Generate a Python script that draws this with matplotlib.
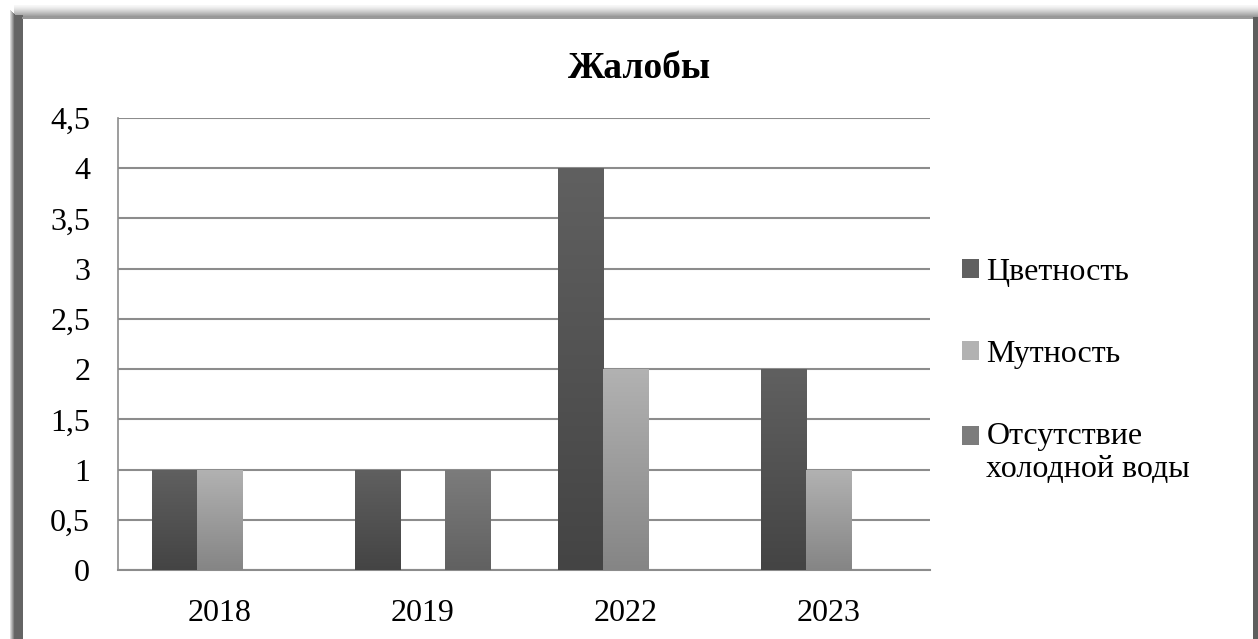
import numpy as np
import matplotlib
matplotlib.use('Agg')
import matplotlib.pyplot as plt
from matplotlib.patches import Rectangle
from matplotlib.ticker import FuncFormatter, MultipleLocator

# данные
years = ['2018', '2019', '2022', '2023']
series_names = ['Цветность', 'Мутность', 'Отсутствие\nхолодной воды']
tsvetnost = [1, 1, 4, 2]
mutnost = [1, 0, 2, 1]
otsutstvie = [0, 1, 0, 0]

# цвета градиента (верх, низ)
grad_colors = [('#606060', '#444444'), ('#b2b2b2', '#858585'), ('#7c7c7c', '#616161')]

plt.rcParams['font.family'] = ['Liberation Serif', 'DejaVu Serif']
fs = 23

W, H = 1258, 639
fig = plt.figure(figsize=(W / 100, H / 100), dpi=100)
fig.patch.set_facecolor('white')

# рамка с тенью
def px_rect(x0, y0, x1, y1, color):
    fig.add_artist(Rectangle((x0 / W, 1 - y1 / H), (x1 - x0) / W, (y1 - y0) / H,
                             transform=fig.transFigure, facecolor=color,
                             edgecolor='none', zorder=0))

# верхняя тень
for i in range(13):
    g = 0.97 - 0.42 * (i / 12) ** 1.3
    px_rect(14, 5 + i, W, 6 + i, (g, g, g))
# левая полоса
for i in range(5):
    g = 0.85 - 0.45 * (i / 4)
    px_rect(10 + i, 10 + i, 11 + i, H, (g, g, g))
px_rect(15, 15, 23, H, '#646464')
px_rect(1253, 17, W, H, '#5e5e5e')
px_rect(22, 17, 1253, 18.5, '#9a9a9a')

ax = fig.add_axes([118 / W, 1 - 570 / H, (930 - 118) / W, (570 - 118) / H])
x = np.arange(len(years))
bw = 0.222
all_series = [tsvetnost, mutnost, otsutstvie]
grad = np.linspace(0, 1, 256).reshape(-1, 1)
for k, (vals, name) in enumerate(zip(all_series, series_names)):
    bars = ax.bar(x + (k - 1) * bw, vals, bw, color=grad_colors[k][0],
                  label=name, zorder=3, linewidth=0)
    cmap = matplotlib.colors.LinearSegmentedColormap.from_list(
        'g%d' % k, [grad_colors[k][1], grad_colors[k][0]])
    for b in bars:
        if b.get_height() <= 0:
            continue
        bx, by = b.get_xy()
        im = ax.imshow(grad, extent=[bx, bx + b.get_width(), by, by + b.get_height()],
                       origin='lower', aspect='auto', cmap=cmap, zorder=3.5,
                       interpolation='bicubic')
        im.set_clip_path(b)

ax.set_xlim(-0.5, len(years) - 0.5)
ax.set_ylim(0, 4.5)
ax.set_aspect('auto')
ax.yaxis.set_major_locator(MultipleLocator(0.5))
ax.yaxis.set_major_formatter(FuncFormatter(
    lambda v, p: ('%g' % v).replace('.', ',')))
ax.set_xticks(x)
ax.set_xticklabels(years)
ax.tick_params(axis='both', length=0, labelsize=fs)
ax.tick_params(axis='y', pad=20)
ax.tick_params(axis='x', pad=21)
ax.grid(axis='y', color='#8c8c8c', linewidth=1.5, zorder=1)
for s in ['top', 'right']:
    ax.spines[s].set_visible(False)
ax.spines['left'].set_color('#8c8c8c')
ax.spines['bottom'].set_color('#8c8c8c')
ax.spines['left'].set_linewidth(1.2)
ax.spines['bottom'].set_linewidth(1.5)

fig.text(640 / W, 1 - 68 / H, 'Жалобы', ha='center', va='center',
         fontsize=27, fontweight='bold')

leg = ax.legend(loc='upper left', bbox_to_anchor=(933 / W, 1 - 229 / H),
                bbox_transform=fig.transFigure, frameon=False, fontsize=fs,
                handlelength=0.55, handleheight=0.55, handletextpad=0.22,
                labelspacing=1.66)
# маркер двухстрочной подписи - на уровне первой строки
h3 = leg.legend_handles[2]
h3.set_y(h3.get_y() + 12.5)

fig.savefig('out.png', dpi=100)
